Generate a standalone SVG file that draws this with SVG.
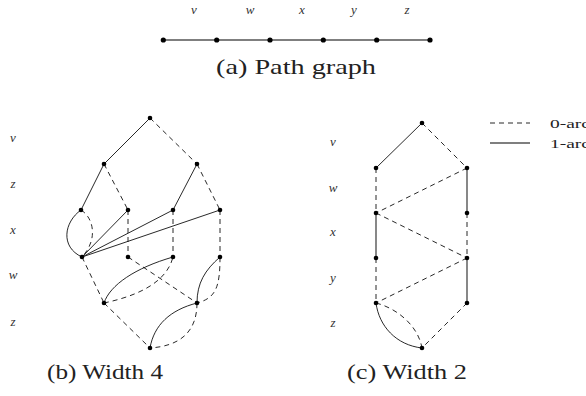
<svg xmlns="http://www.w3.org/2000/svg" width="586" height="396" viewBox="0 0 586 396">
<style>
.lbl{font-family:'Liberation Serif','DejaVu Serif','Times New Roman',serif;font-style:italic;font-size:13px;fill:#333;text-anchor:middle}
.cap{font-family:'Liberation Serif','DejaVu Serif','Times New Roman',serif;font-size:21px;fill:#222;text-anchor:middle}
.leg{font-family:'Liberation Serif','DejaVu Serif','Times New Roman',serif;font-size:13.5px;fill:#222}
.s{stroke:#111;stroke-width:0.9;fill:none}
.g{stroke:#555;stroke-width:1.4;fill:none}
.d{stroke:#111;stroke-width:0.9;fill:none;stroke-dasharray:5 4}
.n{fill:#000}
</style>
<rect width="586" height="396" fill="#fff"/>
<!-- (a) path graph -->
<g id="path-labels">
<text class="lbl" x="194" y="14">v</text>
<text class="lbl" x="250" y="14">w</text>
<text class="lbl" x="302" y="14">x</text>
<text class="lbl" x="354" y="14">y</text>
<text class="lbl" x="407" y="14">z</text>
</g>
<g id="path-edges">
<line class="g" x1="163" y1="40" x2="430" y2="40"/>
</g>
<g id="path-nodes">
<circle class="n" cx="163.3" cy="40" r="2.6"/>
<circle class="n" cx="216.7" cy="40" r="2.6"/>
<circle class="n" cx="270" cy="40" r="2.6"/>
<circle class="n" cx="323.3" cy="40" r="2.6"/>
<circle class="n" cx="376.7" cy="40" r="2.6"/>
<circle class="n" cx="430" cy="40" r="2.6"/>
</g>
<text class="cap" x="296" y="74" textLength="160" lengthAdjust="spacingAndGlyphs">(a) Path graph</text>

<!-- (b) width 4 -->
<g id="b-labels">
<text class="lbl" x="13" y="142">v</text>
<text class="lbl" x="13" y="188">z</text>
<text class="lbl" x="13" y="234">x</text>
<text class="lbl" x="13" y="279">w</text>
<text class="lbl" x="13" y="326">z</text>
</g>
<g id="b-connectors">
<line class="s" x1="150" y1="118" x2="104" y2="164"/>
<line class="d" x1="150" y1="118" x2="197" y2="164"/>
<line class="s" x1="104" y1="164" x2="81" y2="210"/>
<line class="d" x1="104" y1="164" x2="128" y2="210"/>
<line class="s" x1="197" y1="164" x2="173" y2="210"/>
<line class="d" x1="197" y1="164" x2="220" y2="210"/>
<path class="s" d="M81,210 C64,222 60,247 82,257"/>
<path class="d" d="M81,210 C94,218 98,240 82,257"/>
<line class="s" x1="128" y1="210" x2="82" y2="257"/>
<line class="s" x1="173" y1="210" x2="82" y2="257"/>
<line class="s" x1="220" y1="210" x2="82" y2="257"/>
<line class="d" x1="128" y1="210" x2="128" y2="257"/>
<line class="d" x1="173" y1="210" x2="173" y2="257"/>
<line class="d" x1="220" y1="210" x2="220" y2="257"/>
<line class="d" x1="82" y1="257" x2="104" y2="303"/>
<line class="d" x1="128" y1="257" x2="197" y2="303"/>
<path class="s" d="M104,303 C110,285 135,268 173,257"/>
<path class="d" d="M104,303 C132,297 166,285 173,257"/>
<path class="s" d="M220,257 C205,270 197,283 197,303"/>
<path class="d" d="M220,257 C220,287 216,298 197,303"/>
<line class="d" x1="104" y1="303" x2="150" y2="348"/>
<path class="s" d="M197,303 C170,310 154,325 150,348"/>
<path class="d" d="M197,303 C197,332 180,346 150,348"/>
</g>
<g id="b-nodes">
<circle class="n" cx="150" cy="118" r="2.3"/>
<circle class="n" cx="104" cy="164" r="2.3"/>
<circle class="n" cx="197" cy="164" r="2.3"/>
<circle class="n" cx="81" cy="210" r="2.3"/>
<circle class="n" cx="128" cy="210" r="2.3"/>
<circle class="n" cx="173" cy="210" r="2.3"/>
<circle class="n" cx="220" cy="210" r="2.3"/>
<circle class="n" cx="82" cy="257" r="2.3"/>
<circle class="n" cx="128" cy="257" r="2.3"/>
<circle class="n" cx="173" cy="257" r="2.3"/>
<circle class="n" cx="220" cy="257" r="2.3"/>
<circle class="n" cx="104" cy="303" r="2.3"/>
<circle class="n" cx="197" cy="303" r="2.3"/>
<circle class="n" cx="150" cy="348" r="2.3"/>
</g>
<text class="cap" x="105" y="379" textLength="116" lengthAdjust="spacingAndGlyphs">(b) Width 4</text>

<!-- (c) width 2 -->
<g id="c-labels">
<text class="lbl" x="333" y="146">v</text>
<text class="lbl" x="333" y="192">w</text>
<text class="lbl" x="333" y="236">x</text>
<text class="lbl" x="333" y="282">y</text>
<text class="lbl" x="333" y="327">z</text>
</g>
<g id="c-connectors">
<line class="s" x1="422" y1="123" x2="376" y2="168"/>
<line class="d" x1="422" y1="123" x2="467" y2="168"/>
<line class="d" x1="376" y1="168" x2="376" y2="213"/>
<line class="d" x1="467" y1="168" x2="376" y2="213"/>
<line class="g" x1="467" y1="168" x2="467" y2="213"/>
<line class="g" x1="376" y1="213" x2="376" y2="258"/>
<line class="d" x1="376" y1="213" x2="467" y2="258"/>
<line class="d" x1="467" y1="213" x2="467" y2="258"/>
<line class="d" x1="376" y1="258" x2="376" y2="303"/>
<line class="d" x1="467" y1="258" x2="376" y2="303"/>
<line class="g" x1="467" y1="258" x2="467" y2="303"/>
<path class="s" d="M376,303 C379,326 396,345 422,348"/>
<path class="d" d="M376,303 C396,308 418,325 422,348"/>
<line class="d" x1="467" y1="303" x2="422" y2="348"/>
</g>
<g id="c-nodes">
<circle class="n" cx="422" cy="123" r="2.3"/>
<circle class="n" cx="376" cy="168" r="2.3"/>
<circle class="n" cx="467" cy="168" r="2.3"/>
<circle class="n" cx="376" cy="213" r="2.3"/>
<circle class="n" cx="467" cy="213" r="2.3"/>
<circle class="n" cx="376" cy="258" r="2.3"/>
<circle class="n" cx="467" cy="258" r="2.3"/>
<circle class="n" cx="376" cy="303" r="2.3"/>
<circle class="n" cx="467" cy="303" r="2.3"/>
<circle class="n" cx="422" cy="348" r="2.3"/>
</g>
<text class="cap" x="407" y="379" textLength="120" lengthAdjust="spacingAndGlyphs">(c) Width 2</text>

<g id="legend">
<line class="d" x1="490" y1="123" x2="530" y2="123"/>
<line class="g" x1="490" y1="143" x2="530" y2="143"/>
<text class="leg" x="550" y="127.5" textLength="40" lengthAdjust="spacingAndGlyphs">0-arc</text>
<text class="leg" x="550" y="147.5" textLength="40" lengthAdjust="spacingAndGlyphs">1-arc</text>
</g>
</svg>
